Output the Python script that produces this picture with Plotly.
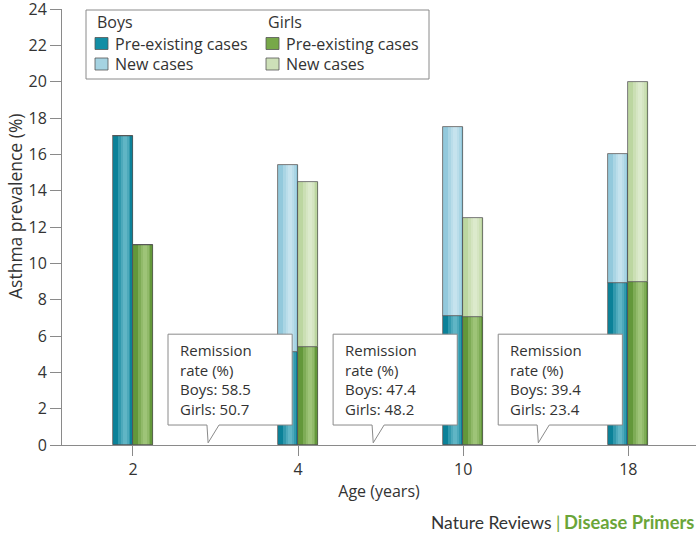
import plotly.graph_objects as go

ages = ["2", "4", "10", "18"]
boys_pre = [17.0, 5.1, 7.1, 8.9]
boys_new = [0.0, 10.3, 10.4, 7.1]
girls_pre = [11.0, 5.4, 7.05, 9.0]
girls_new = [0.0, 9.1, 5.45, 11.0]
remission_boys = [58.5, 47.4, 39.4]
remission_girls = [50.7, 48.2, 23.4]

FONT = "Open Sans"
TICKFONT = "Liberation Sans Narrow, Open Sans"
TXT = "#333333"
GREEN = "#6ba539"
BW = 0.121  # bar width in category units
idx = list(range(len(ages)))
xb = [i - BW / 2 for i in idx]
xg = [i + BW / 2 for i in idx]

# plot area in pixels: x 62..696, y 9..445
def px(x):
    return (x - 62) / 634


def py(y):
    return (445 - y) / 436


fig = go.Figure()


def add_bar(x, y, base, color, hi):
    fig.add_trace(go.Bar(
        x=x, y=y, base=base, width=BW, showlegend=False,
        marker=dict(color=color, line=dict(width=0)), hoverinfo="skip",
    ))
    # layered highlight for the cylinder look
    for w, off, op in [(0.62, 0.06, 0.3), (0.40, 0.08, 0.3), (0.18, 0.09, 0.3)]:
        fig.add_trace(go.Bar(
            x=[v + BW * off for v in x], y=y, base=base, width=BW * w,
            showlegend=False, hoverinfo="skip",
            marker=dict(color=hi, line=dict(width=0), opacity=op),
        ))
    fig.add_trace(go.Bar(
        x=x, y=y, base=base, width=BW, showlegend=False, hoverinfo="skip",
        marker=dict(color="rgba(0,0,0,0)", line=dict(color="#555555", width=0.8)),
    ))


add_bar(xb, boys_pre, [0] * 4, "#0b8198", "#8fd0df")
add_bar(xb, boys_new, boys_pre, "#93c9dc", "#e0f2f7")
add_bar(xg, girls_pre, [0] * 4, "#63983a", "#bedb98")
add_bar(xg, girls_new, girls_pre, "#bcd6a0", "#eef5e6")

shapes = []
annotations = []

# remission callouts between age groups
for k in range(len(remission_boys)):
    x0, x1 = k + 0.212, k + 0.964
    y0, y1 = 1.1, 6.1
    ta, tt, tb = k + 0.448, k + 0.455, k + 0.521
    path = (f"M {ta} {y0} L {x0} {y0} L {x0} {y1} L {x1} {y1} L {x1} {y0} "
            f"L {tb} {y0} L {tt} 0.12 Z")
    shapes.append(dict(type="path", path=path, xref="x", yref="y",
                       line=dict(color="#8a8a8a", width=1), fillcolor="white"))
    annotations.append(dict(
        x=x0 + 0.058, y=py(338), xref="x", yref="paper", xanchor="left",
        yanchor="top", align="left", showarrow=False,
        text=(f"Remission<br>rate (%)<br>Boys: {remission_boys[k]}"
              f"<br>Girls: {remission_girls[k]}"),
        font=dict(family=FONT, size=15, color=TXT),
    ))

# legend (drawn by hand to match the two-column boxed layout)
shapes.append(dict(type="rect", xref="paper", yref="paper",
                   x0=px(86), x1=px(429), y0=py(79), y1=py(10),
                   line=dict(color="#8a8a8a", width=1), fillcolor="white", layer="above"))
legend_items = [
    ("Boys", 95, [("Pre-existing cases", "#128ea5"), ("New cases", "#a5d3e2")]),
    ("Girls", 266, [("Pre-existing cases", "#77a849"), ("New cases", "#cde0b8")]),
]
for title, lx, items in legend_items:
    annotations.append(dict(
        x=px(lx), y=py(22), xref="paper", yref="paper", xanchor="left",
        yanchor="middle", showarrow=False, text=title,
        font=dict(family=FONT, size=16, color=TXT),
    ))
    for j, (label, col) in enumerate(items):
        cy = 43.5 + 20.5 * j
        shapes.append(dict(type="rect", xref="paper", yref="paper",
                           x0=px(lx), x1=px(lx + 13), y0=py(cy + 6), y1=py(cy - 6),
                           line=dict(color="#555555", width=0.8), fillcolor=col,
                           layer="above"))
        annotations.append(dict(
            x=px(lx + 18), y=py(cy), xref="paper", yref="paper", xanchor="left",
            yanchor="middle", showarrow=False, text=label,
            font=dict(family=FONT, size=16, color=TXT),
        ))

# y axis title (sits above the axis centre in the original)
annotations.append(dict(
    x=px(15), y=py(206), xref="paper", yref="paper", xanchor="center",
    yanchor="middle", showarrow=False, textangle=-90,
    text="Asthma prevalence (%)",
    font=dict(family=FONT, size=17.5, color=TXT),
))

# journal footer
annotations.append(dict(
    x=px(696), y=py(522), xref="paper", yref="paper", xanchor="right",
    yanchor="middle", showarrow=False, text="<b>Disease Primers</b>",
    font=dict(family="Lato", size=18.3, color=GREEN),
))
annotations.append(dict(
    x=px(562), y=py(522), xref="paper", yref="paper", xanchor="right",
    yanchor="middle", showarrow=False,
    text=f"Nature Reviews <span style='color:{GREEN}'>|</span>",
    font=dict(family="Lato", size=17.5, color=TXT),
))

fig.update_layout(
    width=700, height=536,
    paper_bgcolor="white", plot_bgcolor="white",
    margin=dict(l=62, r=4, t=9, b=91),
    barmode="overlay", bargap=0, showlegend=False,
    shapes=shapes, annotations=annotations,
    xaxis=dict(
        range=[-0.43, 3.41], tickmode="array", tickvals=idx, ticktext=ages,
        showgrid=False, zeroline=False, showline=True, linecolor="#8a8a8a",
        linewidth=1, ticks="outside", ticklen=10, tickcolor="#8a8a8a",
        automargin=False,
        tickfont=dict(family=TICKFONT, size=16, color=TXT),
        title=dict(text="Age (years)", font=dict(family=FONT, size=16, color=TXT),
                   standoff=6),
    ),
    yaxis=dict(
        range=[0, 24], tickmode="array", tickvals=list(range(0, 25, 2)),
        showgrid=False, zeroline=False, showline=True,
        linecolor="#8a8a8a", linewidth=1, ticks="outside", ticklen=11,
        tickcolor="#8a8a8a", automargin=False, ticklabeloverflow="allow",
        tickfont=dict(family=TICKFONT, size=16, color=TXT),
    ),
)

fig.write_html("out.html", post_script="document.body.style.margin='0px';",
               config={"displayModeBar": False})
